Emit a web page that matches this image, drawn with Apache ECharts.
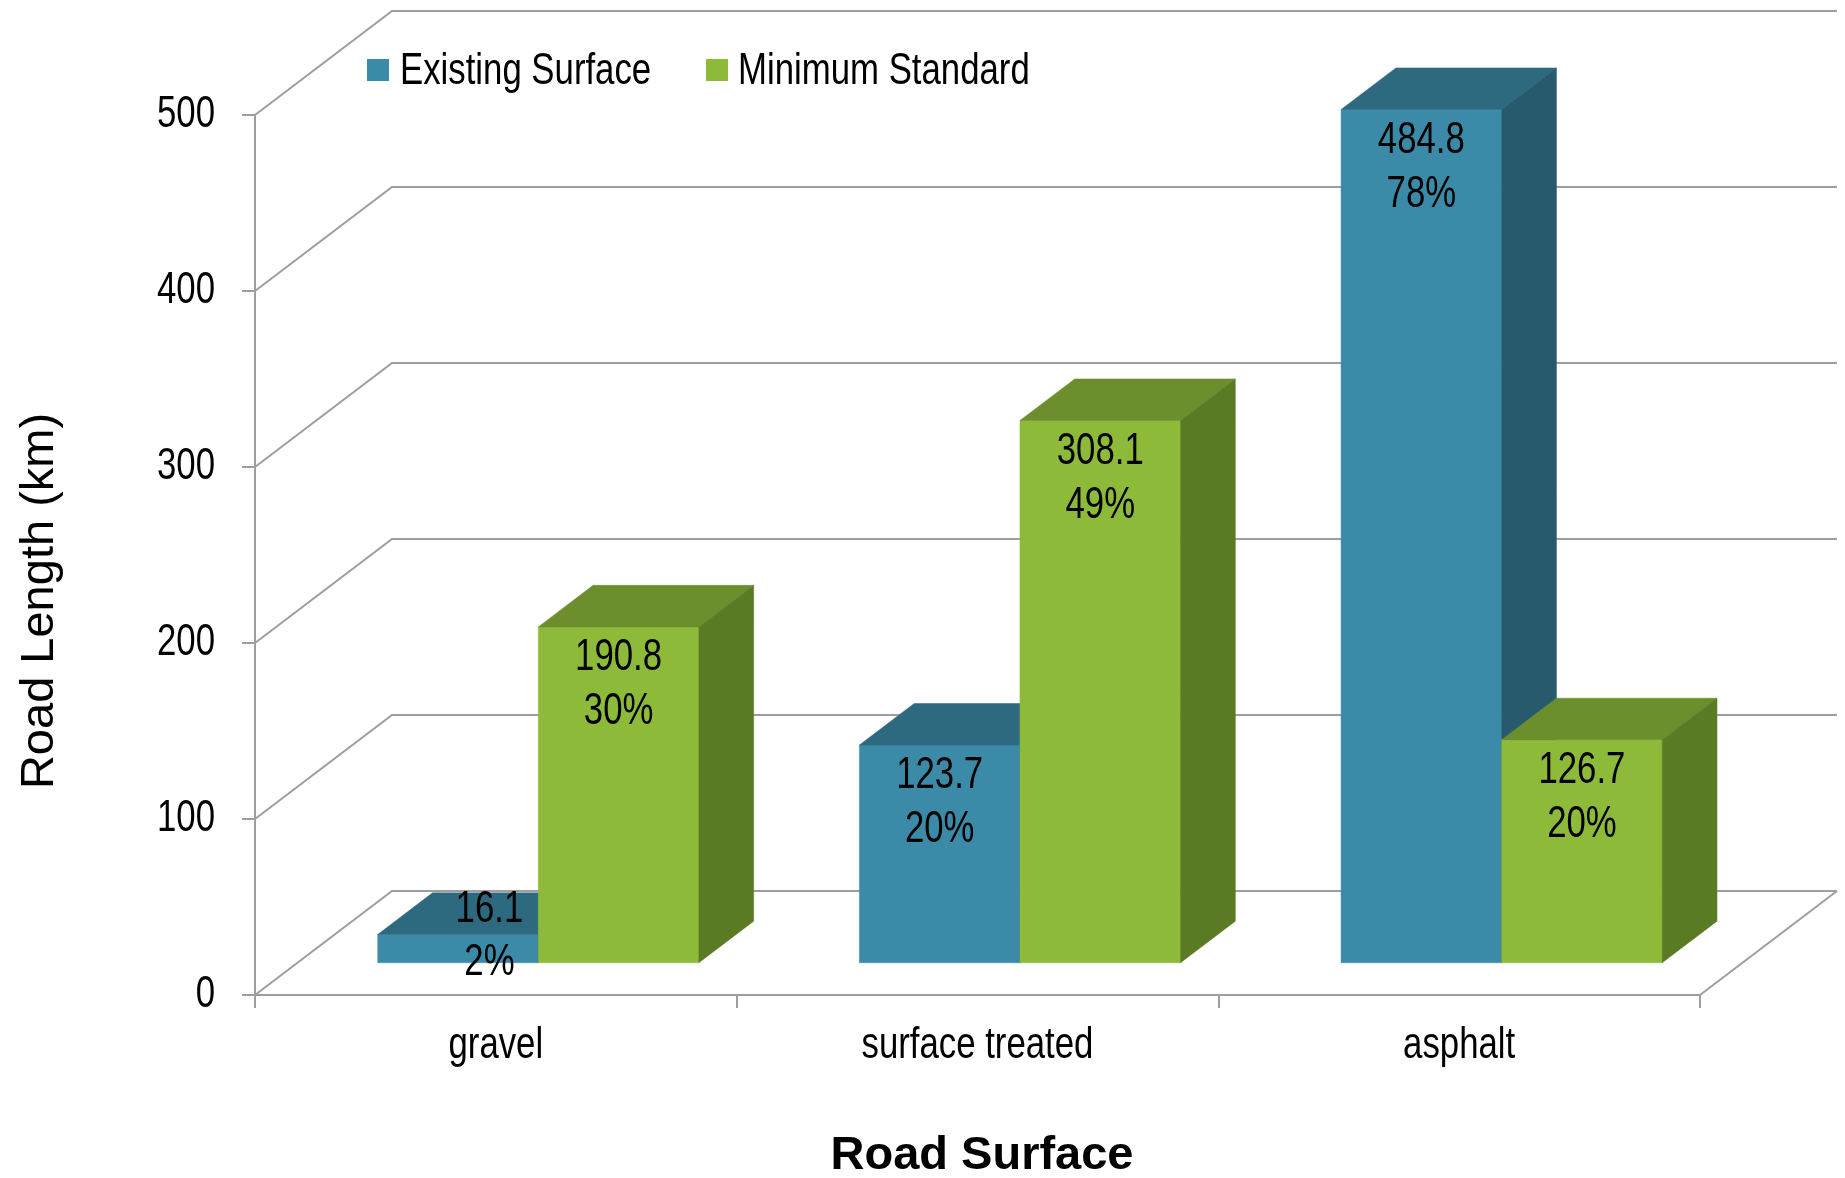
<!DOCTYPE html>
<html>
<head>
<meta charset="utf-8">
<title>Road Length by Road Surface</title>
<script src="https://cdn.jsdelivr.net/npm/echarts@6/dist/echarts.min.js"></script>
<style>
  html, body { margin: 0; padding: 0; background: #ffffff; }
  #chart { width: 1845px; height: 1178px; }
</style>
</head>
<body>
<div id="chart"></div>
<script>
// ---- data ----
const categories = ['gravel', 'surface treated', 'asphalt'];
const seriesNames = ['Existing Surface', 'Minimum Standard'];
const existingKm = [16.1, 123.7, 484.8];
const minimumKm = [190.8, 308.1, 126.7];
const existingShare = ['2%', '20%', '78%'];
const minimumShare = ['30%', '49%', '20%'];
const yTicks = [0, 100, 200, 300, 400, 500];

// ---- look ----
// Narrow text is Liberation Sans squeezed horizontally (Arial Narrow proportions)
const SANS = "'Liberation Sans', Arial, sans-serif";
const NARROW_SCALE = 0.79;
const LABEL_SIZE = 44;
const GRID_COLOR = '#9e9e9e';
const DEPTH_X = 137;        // oblique depth of the floor / walls, px
const DEPTH_Y = 104;
const BAR_FRONT = 0.31;     // bar front plane, as fraction of the floor depth
const BAR_DEPTH = 0.40;     // bar thickness, as fraction of the floor depth
const palette = [
  { front: '#3a8aa8', top: '#2d6a80', side: '#265a6c' },
  { front: '#8dbb39', top: '#6c8e2c', side: '#5a7a24' }
];

function narrowText(str, x, y, align, extra) {
  return Object.assign({
    type: 'text', x: x, y: y, scaleX: NARROW_SCALE, z2: 100, silent: true,
    style: { text: str, x: 0, y: 0, fill: '#000', fontSize: LABEL_SIZE, fontFamily: SANS,
             align: align, verticalAlign: 'middle' }
  }, extra || {});
}

const chart = echarts.init(document.getElementById('chart'), null, { renderer: 'canvas' });

// back wall + floor outline and the value label, one per y tick
function renderWall(params, api) {
  const cs = params.coordSys;
  const v = api.value(1);
  const y = api.coord([0, v])[1];
  const left = cs.x, right = cs.x + cs.width;
  const lineStyle = { stroke: GRID_COLOR, lineWidth: 2, fill: null };
  const children = [{
    type: 'polyline',
    shape: { points: [[left, y], [left + DEPTH_X, y - DEPTH_Y], [right + DEPTH_X, y - DEPTH_Y]] },
    style: lineStyle
  }];
  if (v === 0) {
    children.push({
      type: 'line',
      shape: { x1: right, y1: y, x2: right + DEPTH_X, y2: y - DEPTH_Y },
      style: lineStyle
    });
  }
  children.push(narrowText(String(v), left - 40, y, 'right'));
  return { type: 'group', children: children };
}

// category names under the front edge of the floor
function renderCategory(params, api) {
  const i = api.value(0);
  const p = api.coord([i, 0]);
  return narrowText(categories[i], p[0], p[1] + 51, 'center');
}

// 3D column: front face, top face, right side face and its two-line label
function makeBarRenderer(sIdx) {
  const col = palette[sIdx];
  return function (params, api) {
    const ci = api.value(0);
    const val = api.value(1);
    const share = api.value(2);
    const base = api.coord([ci, 0]);
    const topPt = api.coord([ci, val]);
    const band = api.size([1, 0])[0];
    const bw = band / 3;
    const fx = BAR_FRONT * DEPTH_X, fy = BAR_FRONT * DEPTH_Y;
    const dx = BAR_DEPTH * DEPTH_X, dy = BAR_DEPTH * DEPTH_Y;
    const x0 = base[0] - bw + sIdx * bw + fx;
    const x1 = x0 + bw;
    const yb = base[1] - fy;
    const yt = topPt[1] - fy;

    const children = [
      { type: 'rect', shape: { x: x0, y: yt, width: bw, height: yb - yt },
        style: { fill: col.front, stroke: col.front, lineWidth: 0.5 } },
      { type: 'polygon', shape: { points: [[x0, yt], [x1, yt], [x1 + dx, yt - dy], [x0 + dx, yt - dy]] },
        style: { fill: col.top, stroke: col.top, lineWidth: 0.5 } },
      { type: 'polygon', shape: { points: [[x1, yt], [x1 + dx, yt - dy], [x1 + dx, yb - dy], [x1, yb]] },
        style: { fill: col.side, stroke: col.side, lineWidth: 0.5 } }
    ];

    let lx = (x0 + x1) / 2, l1, l2;
    if (yb - yt < 100) {
      // short column: label block sits centred on the column top
      lx += dx / 2 + 4;
      l1 = yt - 25; l2 = yt + 28;
    } else {
      l1 = yt + 31; l2 = yt + 85;
    }
    children.push(narrowText(String(val), lx, l1, 'center'), narrowText(share, lx, l2, 'center'));
    return { type: 'group', children: children };
  };
}

const option = {
  backgroundColor: '#ffffff',
  animation: false,
  grid: { left: 255, right: 145, top: 115, bottom: 183, containLabel: false },
  xAxis: {
    type: 'category',
    data: categories,
    boundaryGap: true,
    axisLine: { show: true, lineStyle: { color: GRID_COLOR, width: 2 } },
    axisTick: { show: true, length: 13, interval: 0, lineStyle: { color: GRID_COLOR, width: 2 } },
    axisLabel: { show: false },
    splitLine: { show: false }
  },
  yAxis: {
    type: 'value',
    min: 0, max: 500, interval: 100,
    axisLine: { show: true, lineStyle: { color: GRID_COLOR, width: 2 } },
    axisTick: { show: true, length: 13, lineStyle: { color: GRID_COLOR, width: 2 } },
    axisLabel: { show: false },
    splitLine: { show: false }
  },
  graphic: [
    // legend
    { type: 'rect', left: 367, top: 59, shape: { width: 22, height: 22 }, style: { fill: palette[0].front } },
    Object.assign(narrowText(seriesNames[0], 400, 72, 'left'), { z: 10 }),
    { type: 'rect', left: 706, top: 59, shape: { width: 22, height: 22 }, style: { fill: palette[1].front } },
    Object.assign(narrowText(seriesNames[1], 738, 72, 'left'), { z: 10 }),
    // axis titles
    { type: 'text', x: 40, y: 601, rotation: Math.PI / 2,
      style: { text: 'Road Length (km)', fontSize: 47, fontFamily: SANS, fill: '#000',
               align: 'center', verticalAlign: 'middle' } },
    { type: 'text', x: 982, y: 1156,
      style: { text: 'Road Surface', fontSize: 47, fontWeight: 'bold', fontFamily: SANS, fill: '#000',
               align: 'center', verticalAlign: 'middle' } }
  ],
  series: [
    {
      type: 'custom', name: 'wall', z: 1, silent: true,
      renderItem: renderWall,
      data: yTicks.map(v => [0, v])
    },
    {
      type: 'custom', name: 'categoryNames', z: 1, silent: true,
      renderItem: renderCategory,
      data: categories.map((c, i) => [i, 0])
    },
    {
      type: 'custom', name: seriesNames[0], z: 2,
      itemStyle: { color: palette[0].front },
      renderItem: makeBarRenderer(0),
      encode: { x: 0, y: 1 },
      data: existingKm.map((v, i) => [i, v, existingShare[i]])
    },
    {
      type: 'custom', name: seriesNames[1], z: 2,
      itemStyle: { color: palette[1].front },
      renderItem: makeBarRenderer(1),
      encode: { x: 0, y: 1 },
      data: minimumKm.map((v, i) => [i, v, minimumShare[i]])
    }
  ]
};

chart.setOption(option);
</script>
</body>
</html>
